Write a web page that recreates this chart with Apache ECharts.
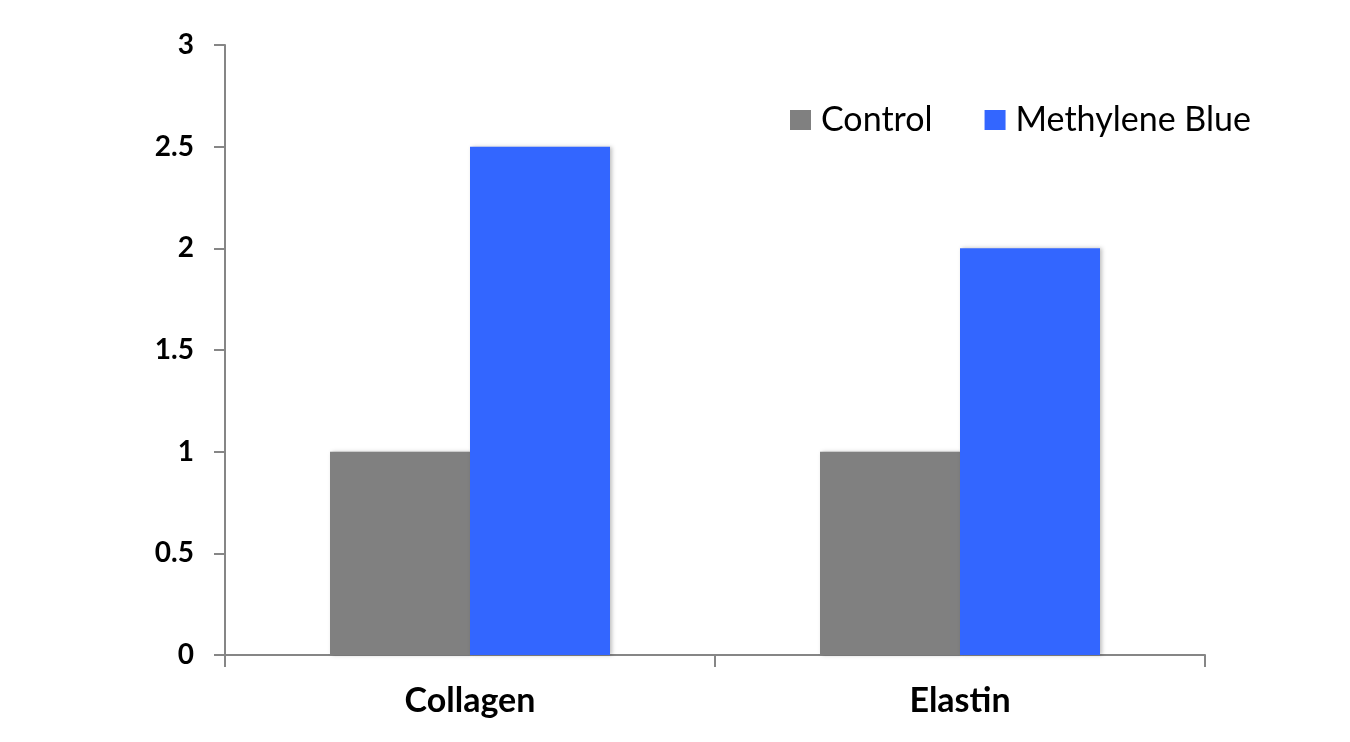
<!DOCTYPE html>
<html>
<head>
<meta charset="utf-8">
<script src="https://cdn.jsdelivr.net/npm/echarts@6/dist/echarts.min.js"></script>
<style>html,body{margin:0;padding:0;background:#fff}#c{width:1350px;height:742px}</style>
</head>
<body>
<div id="c"></div>
<script>
const categories = ['Collagen', 'Elastin'];
const seriesNames = ['Control', 'Methylene Blue'];
const controlValues = [1, 1];
const methyleneBlueValues = [2.5, 2];
const yTicks = [0, 0.5, 1, 1.5, 2, 2.5, 3];

const FONT = 'Lato, "Open Sans", sans-serif';
const chart = echarts.init(document.getElementById('c'));
const shadow = {shadowColor: 'rgba(0,0,0,0.25)', shadowBlur: 4, shadowOffsetX: 2, shadowOffsetY: 0};
chart.setOption({
  animation: false,
  grid: {left: 225, right: 145, top: 45, bottom: 87},
  legend: {
    left: 785, top: 98,
    itemWidth: 21, itemHeight: 20, itemGap: 52,
    icon: 'rect',
    textStyle: {fontFamily: FONT, fontSize: 34, color: '#000', padding: [0, 0, 0, 5]},
    data: seriesNames
  },
  xAxis: {
    type: 'category', data: categories,
    axisLine: {lineStyle: {color: '#868686', width: 2}},
    axisTick: {show: true, length: 12, lineStyle: {color: '#868686', width: 2}},
    axisLabel: {fontFamily: FONT, fontWeight: 'bold', fontSize: 34, color: '#000', margin: 29}
  },
  yAxis: {
    type: 'value', min: yTicks[0], max: yTicks[yTicks.length - 1], interval: 0.5,
    axisLine: {show: true, lineStyle: {color: '#868686', width: 2}},
    axisTick: {show: true, length: 11, lineStyle: {color: '#868686', width: 2}},
    splitLine: {show: false},
    axisLabel: {fontFamily: FONT, fontWeight: 'bold', fontSize: 28, color: '#000', margin: 31}
  },
  series: [
    {name: seriesNames[0], type: 'bar', data: controlValues, barWidth: 140, barGap: '0%',
     itemStyle: Object.assign({color: '#808080'}, shadow)},
    {name: seriesNames[1], type: 'bar', data: methyleneBlueValues, barWidth: 140, barGap: '0%',
     itemStyle: Object.assign({color: '#3366FF'}, shadow)}
  ]
});
</script>
</body>
</html>
